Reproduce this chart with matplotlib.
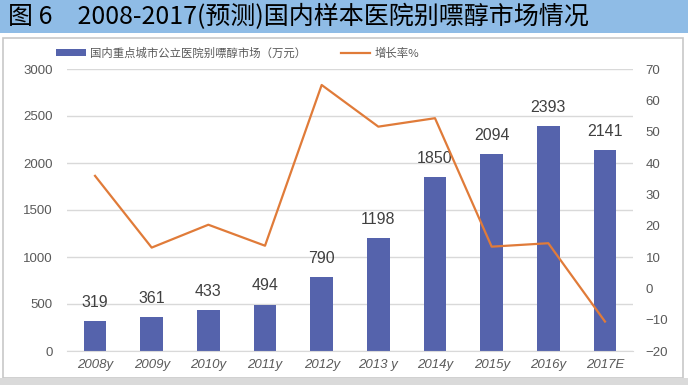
import numpy as np
import matplotlib
matplotlib.use("Agg")
from matplotlib import pyplot as plt
from matplotlib.patches import Rectangle

plt.rcParams['font.family'] = ['Noto Sans CJK SC', 'DejaVu Sans']

# 数据
years = ['2008y', '2009y', '2010y', '2011y', '2012y', '2013 y', '2014y', '2015y', '2016y', '2017E']
market = [319, 361, 433, 494, 790, 1198, 1850, 2094, 2393, 2141]
growth = [35.9, 13.0, 20.3, 13.6, 64.9, 51.6, 54.3, 13.3, 14.4, -10.6]
left_ticks = [0, 500, 1000, 1500, 2000, 2500, 3000]
right_ticks = [-20, -10, 0, 10, 20, 30, 40, 50, 60, 70]

bar_color = '#5563AC'
line_color = '#E07B39'
text_gray = '#595959'
num_font = ['Liberation Sans', 'DejaVu Sans']

fig = plt.figure(figsize=(6.88, 3.85), dpi=100)

# 标题栏
fig.patches.append(Rectangle((0, 1 - 33 / 385), 1, 33 / 385, transform=fig.transFigure,
                             facecolor='#8FBCE6', edgecolor='none', zorder=-2))
fig.text(8 / 688, 1 - 17 / 385, '图 6　2008-2017(预测)国内样本医院别嘌醇市场情况',
         fontsize=18, fontweight='medium', color='black', va='center', ha='left')
# 图表外框
fig.patches.append(Rectangle((3 / 688, 1 - 378 / 385), 680 / 688, 340 / 385, transform=fig.transFigure,
                             facecolor='none', edgecolor='#C8C8C8', linewidth=1.2, zorder=-2))
fig.patches.append(Rectangle((0, 0), 1, 7 / 385, transform=fig.transFigure,
                             facecolor='#DADADA', edgecolor='none', zorder=-2))

ax = fig.add_axes([66.7 / 688, 1 - 351 / 385, 566.6 / 688, 282 / 385])
ax.patch.set_alpha(0)
x = np.arange(len(years))
bars = ax.bar(x, market, width=0.4, color=bar_color, zorder=2, label='国内重点城市公立医院别嘌醇市场（万元）')
for xi, v in zip(x, market):
    ax.annotate(str(v), (xi, v), xytext=(0, 8), textcoords='offset points', family=num_font,
                ha='center', va='bottom', fontsize=11.5, color='#404040')
ax.set_xlim(-0.5, len(years) - 0.5)
ax.set_ylim(0, 3000)
ax.set_yticks(left_ticks)
ax.yaxis.grid(True, color='#D9D9D9', linewidth=1.0, zorder=0)
ax.set_axisbelow(True)
for s in ['top', 'right', 'left']:
    ax.spines[s].set_visible(False)
ax.spines['bottom'].set_color('#D9D9D9')
ax.set_xticks(x)
ax.set_xticklabels(years, fontstyle='italic', family=num_font)
for lab in ax.get_yticklabels():
    lab.set_family(num_font)
ax.tick_params(axis='both', length=0, colors=text_gray, labelsize=9.5)
ax.tick_params(axis='y', pad=10)
ax.tick_params(axis='x', pad=6)

ax2 = ax.twinx()
ax2.plot(x, growth, color=line_color, linewidth=1.6, zorder=3, label='增长率%')
ax2.set_ylim(-20, 70)
ax2.set_yticks(right_ticks)
for lab in ax2.get_yticklabels():
    lab.set_family(num_font)
for s in ax2.spines.values():
    s.set_visible(False)
ax2.tick_params(axis='y', length=0, colors=text_gray, labelsize=9.5, pad=9)

h1, l1 = ax.get_legend_handles_labels()
h2, l2 = ax2.get_legend_handles_labels()
leg = fig.legend(h1 + h2, l1 + l2, loc='center', bbox_to_anchor=(238 / 688, 1 - 53 / 385), ncol=2,
                 frameon=False, fontsize=8.2, handlelength=2.6, handleheight=0.5, columnspacing=3.0,
                 handletextpad=0.4)
for t in leg.get_texts():
    t.set_color(text_gray)

fig.savefig('out.png', dpi=100)
